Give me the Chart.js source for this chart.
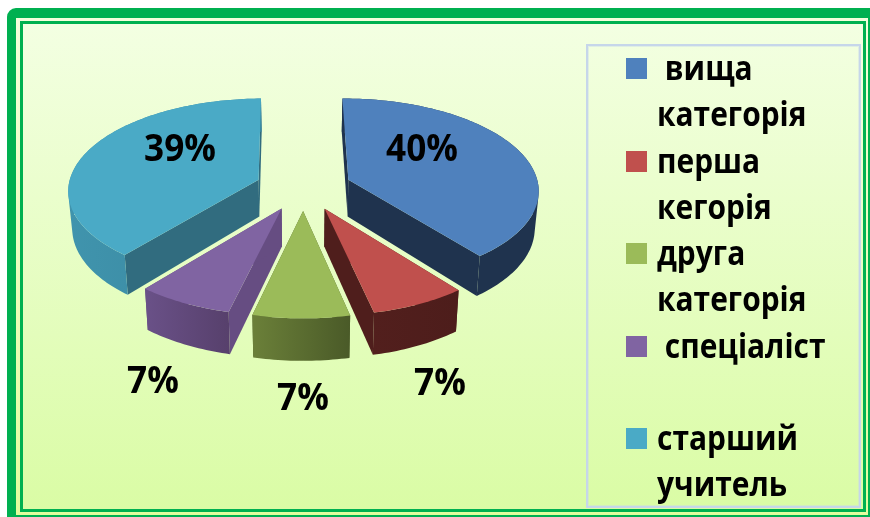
<!DOCTYPE html>
<html>
<head>
<meta charset="utf-8">
<style>
  html, body { margin: 0; padding: 0; background: #fff; }
  body { width: 870px; height: 517px; overflow: hidden; position: relative; }
  #frame { position: absolute; left: 7px; top: 8px; width: 852px; height: 497px; border-style: solid; border-color: #00b050; border-width: 10px 2px 2px 9px; border-radius: 9px 0 0 0; background: linear-gradient(#f4ffdc, #e2fd9e); }
  #inner { position: absolute; left: 20px; top: 21px; width: 840px; height: 485px; border: 3px solid #00b050; background: linear-gradient(#f3ffe2, #dafca5); }
  #legendBox { position: absolute; left: 586px; top: 44px; width: 271px; height: 460px; border: 2px solid #c6d6ea; box-shadow: inset 0 0 0 1px rgba(198, 214, 234, 0.4); }
  canvas { position: absolute; left: 0; top: 0; }
</style>
<script src="https://cdn.jsdelivr.net/npm/chart.js@4"></script>
</head>
<body>
<div id="frame"></div>
<div id="inner"></div>
<div id="legendBox"></div>
<canvas id="chart" width="870" height="517"></canvas>
<script>
const categories = ['вища категорія', 'перша кегорія', 'друга категорія', 'спеціаліст', 'старший учитель'];
const values = [39.5, 7.2, 7.2, 7.2, 38.9];
const legendLines = [[' вища', 'категорія'], ['перша', 'кегорія'], ['друга', 'категорія'], [' спеціаліст', ''], ['старший', 'учитель']];

const topColors = ['#4f81bd', '#c0504d', '#9bbb59', '#8064a2', '#4aaac6'];
const cutColors = ['#1f334e', '#4f1e1c', '#4e5f2b', '#664d82', '#316c7f'];
const rimLeft = ['#1f334e', '#521f1d', '#6b8039', '#6a5188', '#4094ad'];
const rimRight = ['#1f334e', '#4d1d1b', '#4a5a28', '#57406c', '#38869e'];

// where the percentages sit, the pie is flat in the library so these are page pixels
const labelAnchors = [[422, 148], [440, 382], [303, 397], [153, 380], [180, 148]];

const PERSPECTIVE = 1850;
const TILT = 0.4783;
const DEPTH = 37;
const BOTTOM_SHRINK = 0.983;
const LABEL_FONT = 'bold 37px "Open Sans"';
const LEGEND_FONT = 'bold 34px "Open Sans"';
const LABEL_SQUEEZE = 0.95;
const LEGEND_SQUEEZE = 0.88;

function squeezedText(ctx, text, x, y, squeeze) {
    ctx.save();
    ctx.translate(x, y);
    ctx.scale(squeeze, 1);
    ctx.fillText(text, 0, 0);
    ctx.restore();
}

const pie3d = {
    id: 'pie3d',
    beforeDatasetsDraw(chart) {
        const ctx = chart.ctx;
        const arcs = chart.getDatasetMeta(0).data;

        const slices = arcs.map((arc, i) => {
            const { x, y, startAngle, endAngle, outerRadius } = arc.getProps(['x', 'y', 'startAngle', 'endAngle', 'outerRadius'], true);
            const mid = (startAngle + endAngle) / 2;
            const off = arc.options.offset;
            const ox = Math.cos(mid) * off;
            const oy = Math.sin(mid) * off;

            const top = (u, v) => {
                const f = PERSPECTIVE / (PERSPECTIVE - v);
                return { x: x + u * f, y: y + TILT * v * f };
            };
            const bottom = (u, v) => {
                const f = PERSPECTIVE / (PERSPECTIVE - v);
                return { x: x + u * f * BOTTOM_SHRINK, y: y + TILT * v * f + DEPTH * f };
            };

            const rim = [];
            const steps = Math.ceil((endAngle - startAngle) / 0.02);
            for (let s = 0; s <= steps; s++) {
                const a = startAngle + (endAngle - startAngle) * s / steps;
                rim.push([ox + Math.cos(a) * outerRadius, oy + Math.sin(a) * outerRadius]);
            }
            return { i, ox, oy, rim, top, bottom };
        });

        slices.sort((a, b) => a.oy - b.oy);

        const trace = (pts) => {
            pts.forEach((p, n) => (n ? ctx.lineTo(p.x, p.y) : ctx.moveTo(p.x, p.y)));
            ctx.closePath();
        };
        const poly = (pts, fill) => {
            ctx.beginPath();
            trace(pts);
            ctx.fillStyle = fill;
            ctx.fill();
        };
        const area = (pts) => pts.reduce((sum, p, n) => {
            const q = pts[(n + 1) % pts.length];
            return sum + p.x * q.y - q.x * p.y;
        }, 0);

        slices.forEach((s) => {
            const first = s.rim[0];
            const last = s.rim[s.rim.length - 1];
            poly([s.top(s.ox, s.oy), s.top(first[0], first[1]), s.bottom(first[0], first[1]), s.bottom(s.ox, s.oy)], cutColors[s.i]);
            poly([s.top(s.ox, s.oy), s.top(last[0], last[1]), s.bottom(last[0], last[1]), s.bottom(s.ox, s.oy)], cutColors[s.i]);

            const upper = s.rim.map((p) => s.top(p[0], p[1]));
            const lower = s.rim.map((p) => s.bottom(p[0], p[1]));
            const xs = upper.map((p) => p.x);
            const grad = ctx.createLinearGradient(Math.min(...xs), 0, Math.max(...xs), 0);
            grad.addColorStop(0, rimLeft[s.i]);
            grad.addColorStop(1, rimRight[s.i]);
            // all rim quads in one path, same winding, so the sides join top and bottom edges without seams
            ctx.beginPath();
            for (let n = 0; n < upper.length - 1; n++) {
                const quad = [upper[n], upper[n + 1], lower[n + 1], lower[n]];
                trace(area(quad) < 0 ? quad.reverse() : quad);
            }
            ctx.fillStyle = grad;
            ctx.fill();

            poly([s.top(s.ox, s.oy)].concat(upper), topColors[s.i]);
        });
        return false;
    },
    afterDraw(chart) {
        const ctx = chart.ctx;
        ctx.save();
        ctx.fillStyle = '#000';
        ctx.textBaseline = 'alphabetic';

        ctx.font = LABEL_FONT;
        ctx.textAlign = 'center';
        values.forEach((v, i) => {
            squeezedText(ctx, Math.round(v) + '%', labelAnchors[i][0], labelAnchors[i][1] + 13, LABEL_SQUEEZE);
        });

        ctx.font = LEGEND_FONT;
        ctx.textAlign = 'left';
        legendLines.forEach((lines, i) => {
            const rowTop = 58 + i * 92.5;
            ctx.fillStyle = topColors[i];
            ctx.fillRect(626, Math.round(rowTop), 21, 21);
            ctx.fillStyle = '#000';
            lines.forEach((line, n) => {
                squeezedText(ctx, line, 657, rowTop + 22 + n * 46.25, LEGEND_SQUEEZE);
            });
        });
        ctx.restore();
    },
};

new Chart(document.getElementById('chart'), {
    type: 'pie',
    data: {
        labels: categories,
        datasets: [{
            data: values,
            backgroundColor: topColors,
            borderWidth: 0,
            offset: 48,
            radius: 190.5,
            rotation: -0.6,
        }],
    },
    options: {
        responsive: false,
        animation: false,
        events: [],
        layout: { padding: { right: 263, bottom: 142.2 } },
        plugins: {
            legend: { display: false },
            tooltip: { enabled: false },
        },
    },
    plugins: [pie3d],
});
</script>
</body>
</html>
